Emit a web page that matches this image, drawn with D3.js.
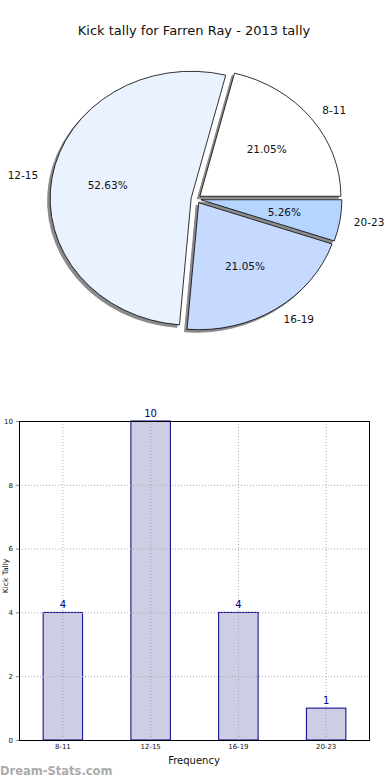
<!DOCTYPE html>
<html>
<head>
<meta charset="utf-8">
<script src="https://cdn.jsdelivr.net/npm/d3@7"></script>
<style>
  html, body { margin: 0; padding: 0; background: #fff; }
  svg { display: block; font-family: "DejaVu Sans", sans-serif; }
</style>
</head>
<body>
<svg id="chart" width="390" height="780"></svg>
<script>
const categories = ["8-11", "12-15", "16-19", "20-23"];
const values = [4, 10, 4, 1];
const pieColors = ["#ffffff", "#eaf1ff", "#c6d9ff", "#b5d5ff"];
const yTicks = [0, 2, 4, 6, 8, 10];
const title = "Kick tally for Farren Ray - 2013 tally";

const svg = d3.select("#chart");

// Title
svg.append("text").attr("x", 194).attr("y", 35).attr("text-anchor", "middle")
  .attr("font-size", 13).attr("fill", "#111").text(title);

// ---------- PIE ----------
const cx = 196, cy = 199, rx = 141, ry = 127, k = ry / rx;
const explode = 0.035;
const total = d3.sum(values);
// matplotlib style: start at 0 rad (east), counterclockwise
let acc = 0;
const slices = values.map((v, i) => {
  const t1 = acc / total * 2 * Math.PI;
  acc += v;
  const t2 = acc / total * 2 * Math.PI;
  return { cat: categories[i], v, t1, t2, mid: (t1 + t2) / 2, color: pieColors[i] };
});
const arc = d3.arc().innerRadius(0).outerRadius(rx);
const pieG = svg.append("g").attr("transform", `translate(${cx},${cy}) scale(1,${k})`);
const shadowG = pieG.append("g");
const sliceG = pieG.append("g");
slices.forEach(s => {
  const ox = explode * rx * Math.cos(s.mid);
  const oy = -explode * rx * Math.sin(s.mid);
  const d = arc({ startAngle: Math.PI / 2 - s.t2, endAngle: Math.PI / 2 - s.t1 });
  shadowG.append("path").attr("d", d)
    .attr("transform", `translate(${ox - 2.5},${oy + 2.5 / k})`)
    .attr("fill", "#8a8a8a").attr("stroke", "#8a8a8a").attr("stroke-width", 1)
    .attr("vector-effect", "non-scaling-stroke");
  sliceG.append("path").attr("d", d)
    .attr("transform", `translate(${ox},${oy})`)
    .attr("fill", s.color).attr("stroke", "#000").attr("stroke-width", 0.8)
    .attr("vector-effect", "non-scaling-stroke");
});
slices.forEach(s => {
  const ox = cx + explode * rx * Math.cos(s.mid);
  const oy = cy - explode * ry * Math.sin(s.mid);
  const lx = ox + 1.1 * rx * Math.cos(s.mid);
  const ly = oy - 1.1 * ry * Math.sin(s.mid);
  svg.append("text").attr("x", lx).attr("y", ly).attr("dy", "0.35em")
    .attr("text-anchor", Math.cos(s.mid) >= 0 ? "start" : "end")
    .attr("font-size", 10.5).attr("fill", "#111").text(s.cat);
  const px = ox + 0.6 * rx * Math.cos(s.mid);
  const py = oy - 0.6 * ry * Math.sin(s.mid);
  svg.append("text").attr("x", px).attr("y", py).attr("dy", "0.35em")
    .attr("text-anchor", "middle").attr("font-size", 10.5).attr("fill", "#111")
    .text((s.v / total * 100).toFixed(2) + "%");
});

// ---------- BAR ----------
const L = 19, R = 370, T = 421, B = 740;
const x = d3.scaleBand().domain(categories).range([L, R]).paddingInner(0).paddingOuter(0);
const y = d3.scaleLinear().domain([0, 10]).range([B, T]);
const barW = x.bandwidth() * 0.45;

svg.append("g").selectAll("rect").data(categories).join("rect")
  .attr("x", (c) => x(c) + x.bandwidth() / 2 - barW / 2)
  .attr("y", (c, i) => y(values[i]))
  .attr("width", barW)
  .attr("height", (c, i) => B - y(values[i]))
  .attr("fill", "#cdcde3").attr("stroke", "#00008b").attr("stroke-width", 1);

// grid drawn above bars (as in matplotlib output)
const grid = svg.append("g").attr("stroke", "#a8a8b4").attr("stroke-dasharray", "1,2").attr("stroke-width", 1);
yTicks.forEach(t => {
  grid.append("line").attr("x1", L).attr("x2", R).attr("y1", y(t) + 0.5).attr("y2", y(t) + 0.5);
});
categories.forEach(c => {
  const xc = x(c) + x.bandwidth() / 2;
  grid.append("line").attr("x1", xc).attr("x2", xc).attr("y1", T).attr("y2", B);
});

svg.append("g").selectAll("text").data(categories).join("text")
  .attr("x", c => x(c) + x.bandwidth() / 2)
  .attr("y", (c, i) => y(values[i]) - 4)
  .attr("text-anchor", "middle").attr("font-size", 10).attr("fill", "#00008b")
  .text((c, i) => values[i]);

// axes frame
svg.append("rect").attr("x", L + 0.5).attr("y", T + 0.5).attr("width", R - L - 1).attr("height", B - T)
  .attr("fill", "none").attr("stroke", "#000").attr("stroke-width", 1);

const yAxis = d3.axisLeft(y).tickValues(yTicks).tickSize(3).tickPadding(3);
const ya = svg.append("g").attr("transform", `translate(${L},0)`).call(yAxis);
ya.select(".domain").remove();
ya.selectAll("text").attr("font-size", 7).attr("font-family", "DejaVu Sans").attr("fill", "#111");
ya.selectAll("line").attr("stroke", "#888");

const xAxis = d3.axisBottom(x).tickSize(0).tickPadding(4);
const xa = svg.append("g").attr("transform", `translate(0,${B})`).call(xAxis);
xa.select(".domain").remove();
xa.selectAll("text").attr("font-size", 7).attr("font-family", "DejaVu Sans").attr("fill", "#111");

svg.append("text").attr("x", 194).attr("y", 764).attr("text-anchor", "middle")
  .attr("font-size", 10).attr("fill", "#111").text("Frequency");

svg.append("text").attr("transform", "translate(8,576) rotate(-90)")
  .attr("text-anchor", "middle").attr("font-size", 7.5).attr("fill", "#111").text("Kick Tally");

svg.append("text").attr("x", 0).attr("y", 775).attr("font-size", 11.5).attr("font-weight", "bold")
  .attr("fill", "#ababab").text("Dream-Stats.com");
</script>
</body>
</html>
